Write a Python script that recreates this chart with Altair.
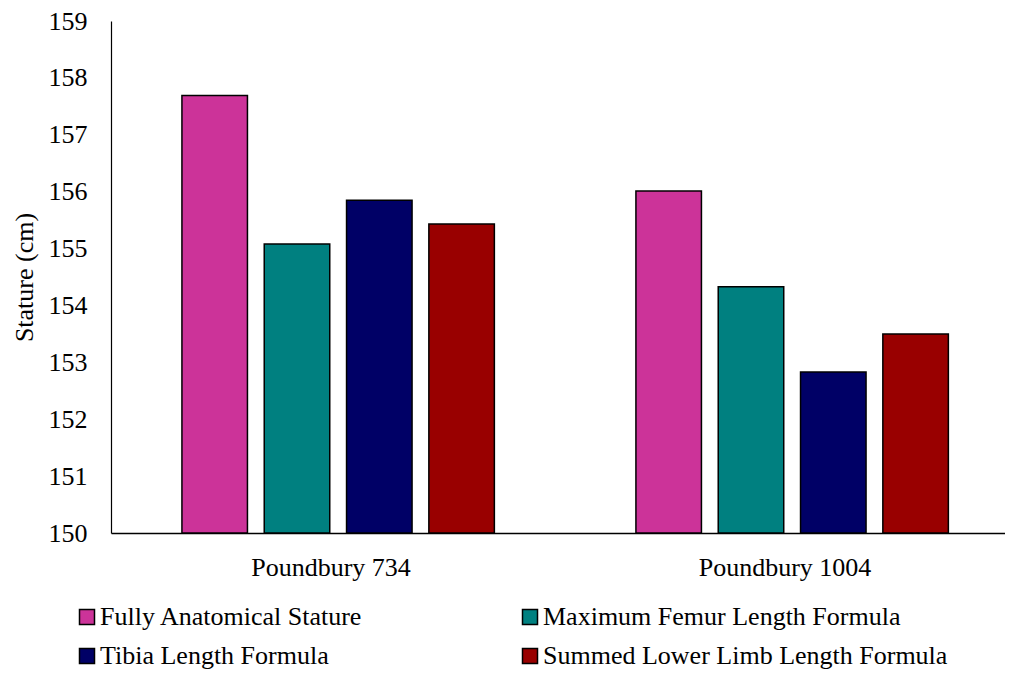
import altair as alt
import pandas as pd

categories = ["Poundbury 734", "Poundbury 1004"]
series = [
    "Fully Anatomical Stature",
    "Maximum Femur Length Formula",
    "Tibia Length Formula",
    "Summed Lower Limb Length Formula",
]
fully = [157.69, 156.01]
femur = [155.08, 154.33]
tibia = [155.85, 152.83]
summed = [155.43, 153.50]
colors = ["#CC3399", "#008080", "#000066", "#990000"]
y_ticks = [150, 151, 152, 153, 154, 155, 156, 157, 158, 159]

rows = []
for s, vals in zip(series, [fully, femur, tibia, summed]):
    for c, v in zip(categories, vals):
        rows.append({"Site": c, "Method": s, "Stature": v})
df = pd.DataFrame(rows)

FONT = "Liberation Serif"

chart = alt.Chart(df).mark_bar(stroke="black", strokeWidth=1.5).encode(
    x=alt.X(
        "Site:N", sort=categories, title=None,
        scale=alt.Scale(paddingInner=0.0308, paddingOuter=0),
        axis=alt.Axis(labelAngle=0, ticks=False, tickSize=0, labelPadding=21,
                      labelFontSize=26, labelFont=FONT, labelColor="black",
                      domainColor="black", domainWidth=1.5),
    ),
    xOffset=alt.XOffset("Method:N", sort=series,
                        scale=alt.Scale(paddingInner=0.204, paddingOuter=0.775,
                                        align=0.556)),
    y=alt.Y(
        "Stature:Q",
        scale=alt.Scale(domain=[150, 159], zero=False, nice=False),
        axis=alt.Axis(values=y_ticks, title="Stature (cm)", grid=False, ticks=False,
                      tickSize=0, labelPadding=24, labelFontSize=26, labelFont=FONT,
                      labelColor="black", domainColor="black", domainWidth=1.2,
                      titleX=-87, titleY=256, titleAngle=270, titleAlign="center",
                      titleBaseline="middle", titleFontSize=26, titleFont=FONT,
                      titleFontWeight="normal", titleColor="black"),
    ),
    y2=alt.datum(150),
    color=alt.Color(
        "Method:N", sort=series,
        scale=alt.Scale(domain=series, range=colors),
        legend=alt.Legend(title=None, orient="none", legendX=-37, legendY=583,
                          direction="horizontal",
                          columns=2, columnPadding=154, rowPadding=13,
                          symbolType="square", symbolSize=225,
                          symbolStrokeColor="black", symbolStrokeWidth=1.5,
                          symbolOpacity=1, labelFontSize=26, labelFont=FONT,
                          labelColor="black", labelOffset=0, labelLimit=0),
    ),
).properties(
    width=894, height=512,
    autosize=alt.AutoSizeParams(type="none"),
    padding={"left": 103, "top": 13, "right": 0, "bottom": 139},
).configure_view(stroke=None)

chart.save("out.html", embed_options={"renderer": "svg", "actions": False})
